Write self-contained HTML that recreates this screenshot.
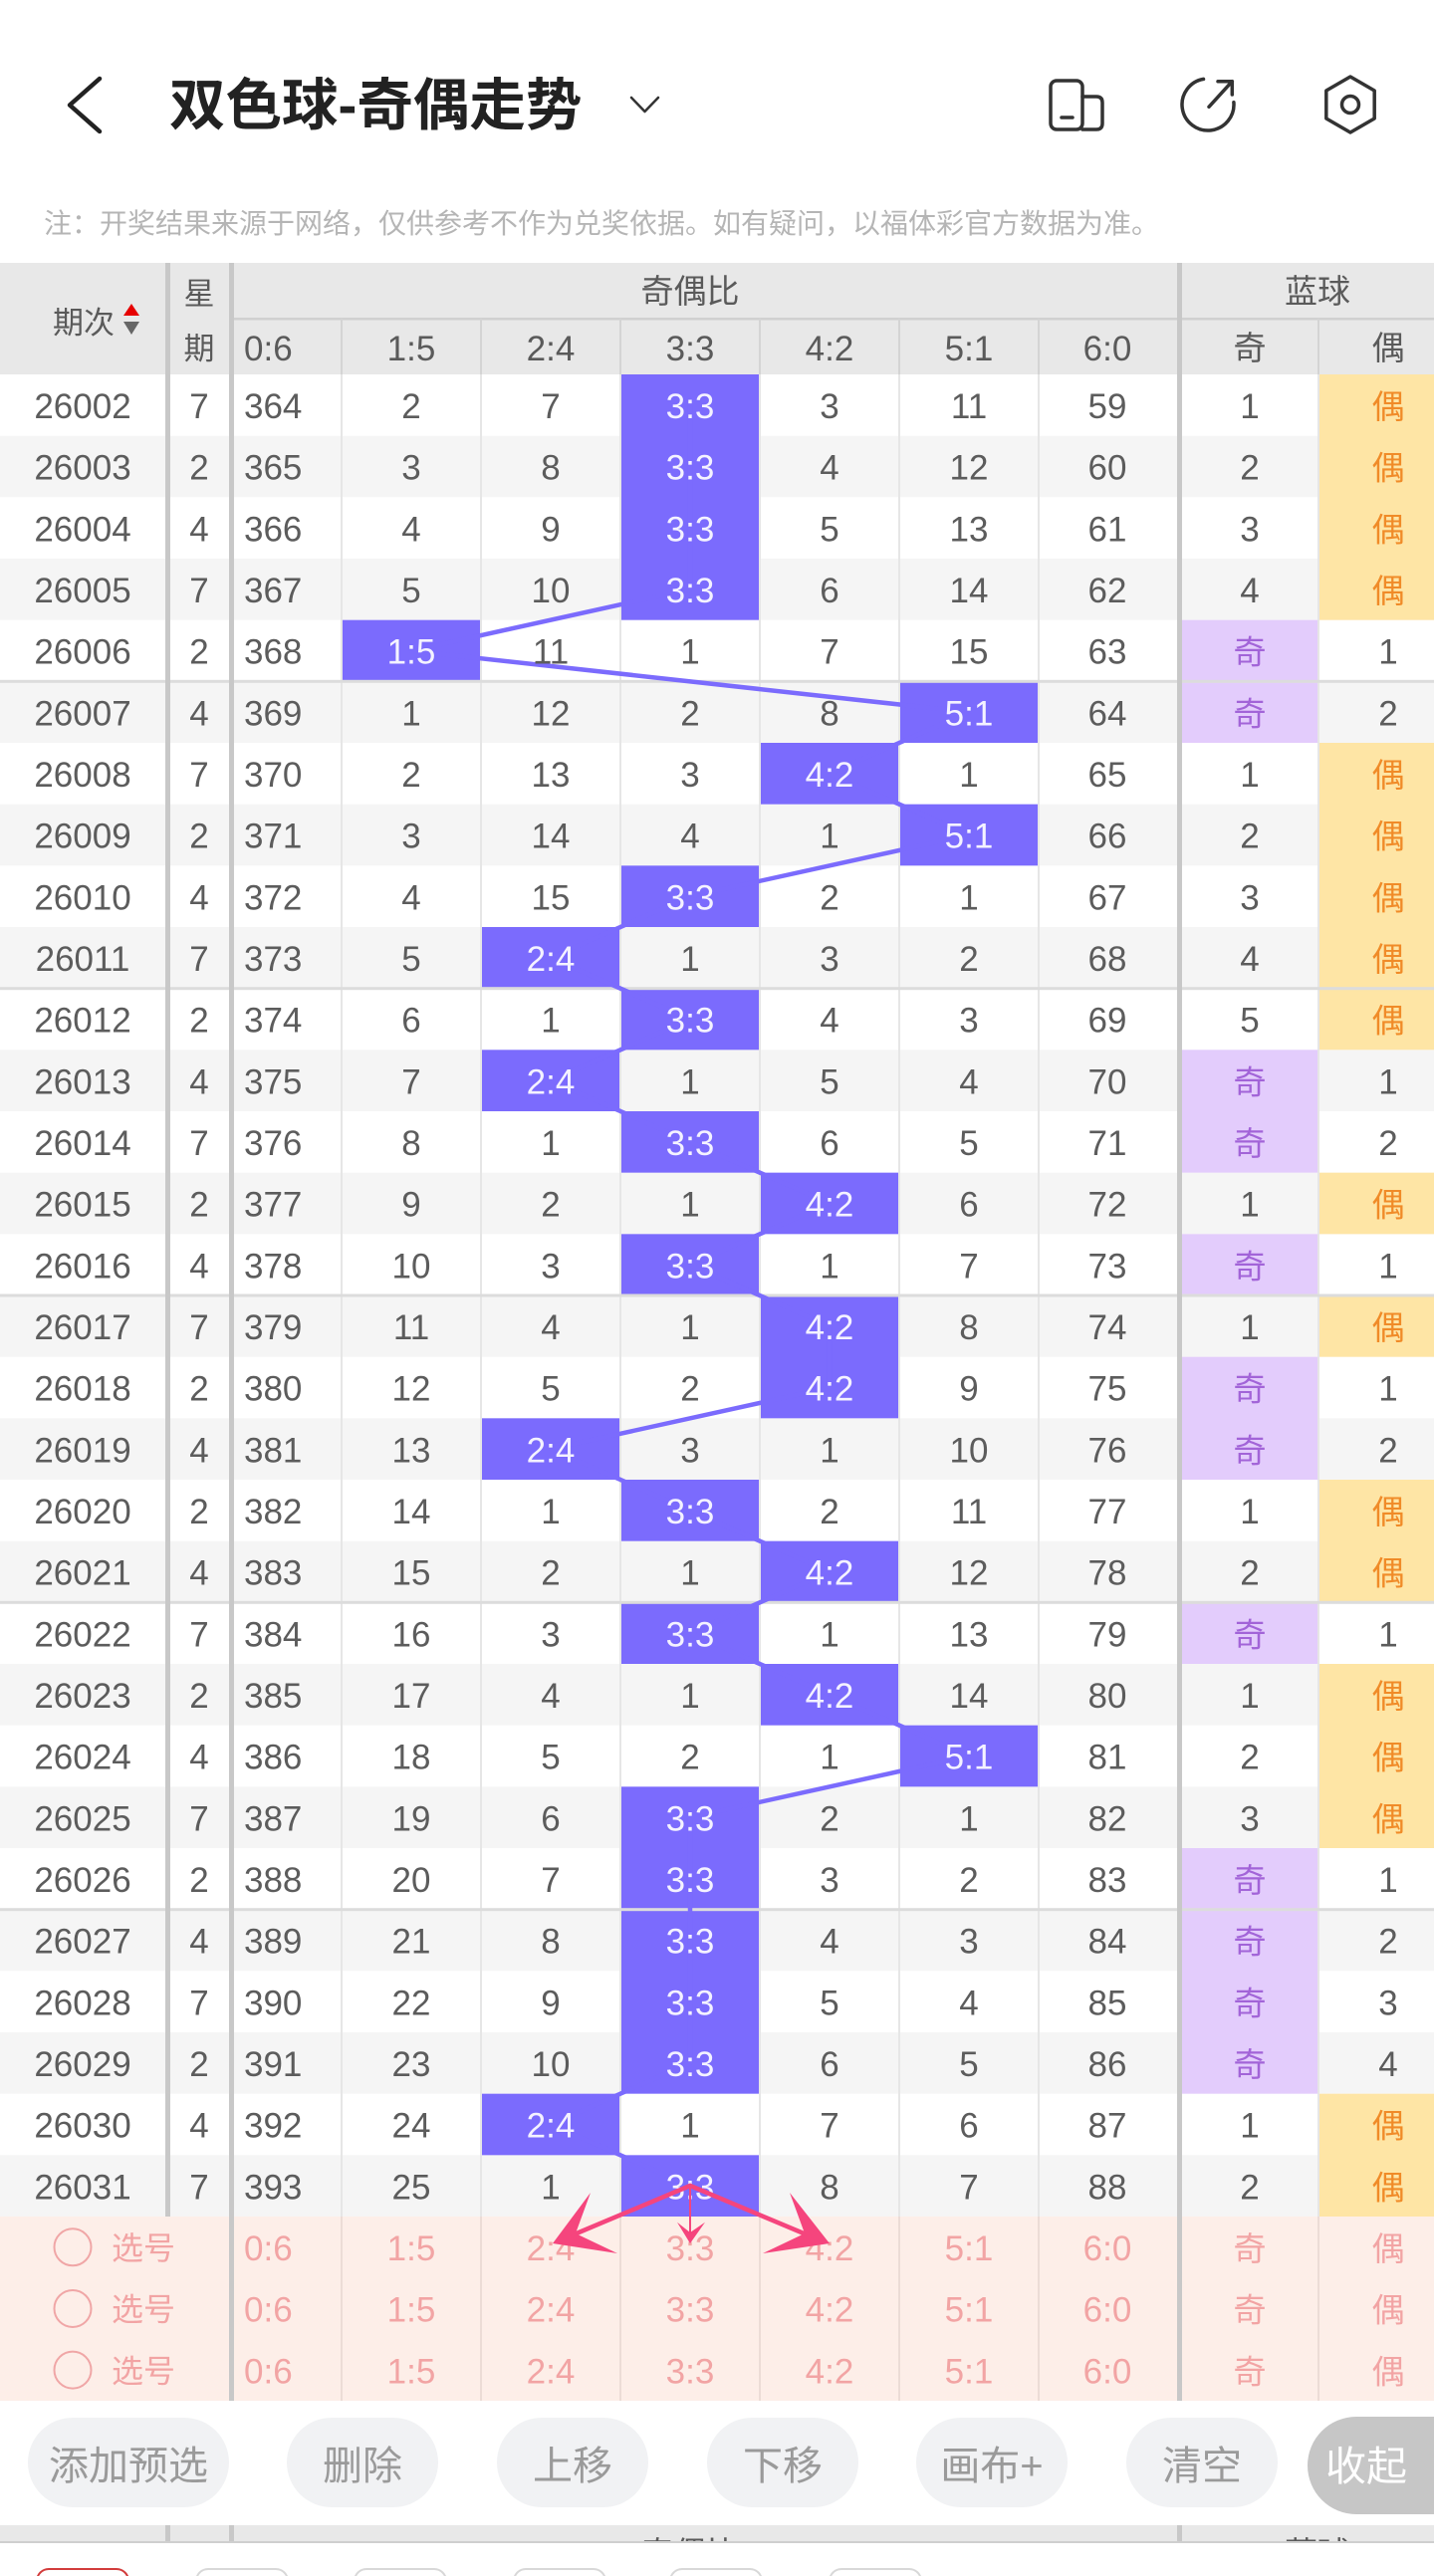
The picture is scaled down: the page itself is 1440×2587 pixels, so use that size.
<!DOCTYPE html>
<html>
<head>
<meta charset="utf-8">
<style>
html,body{margin:0;padding:0;background:#fff;}
body{width:1440px;height:2587px;overflow:hidden;position:relative;}
svg{position:absolute;left:0;top:0;display:block;}
text{font-family:"Liberation Sans","Noto Sans CJK SC",sans-serif;}
.d text{font-size:35px;fill:#5c5c5c;text-anchor:middle;}
.d text.s{text-anchor:start;}
.d text.w{fill:#f4f2ff;}
.d text.q{fill:#a264d8;font-size:33px;}
.d text.o{fill:#f08b28;font-size:33px;}
.h text{fill:#5a5a5a;text-anchor:middle;}
.p text{fill:#f2a4a4;font-size:35px;text-anchor:middle;}
.p text.s{text-anchor:start;}
.p text.c{font-size:33px;}
.b text{font-size:40px;fill:#9a9a9a;text-anchor:middle;}
</style>
</head>
<body>
<svg width="1440" height="2587" viewBox="0 0 1440 2587" xmlns="http://www.w3.org/2000/svg">
<defs>
<clipPath id="stripclip"><rect x="0" y="2536" width="1440" height="16"/></clipPath>
</defs>

<!-- Top bar -->
<polyline points="100,79 70,105.5 100,132" fill="none" stroke="#222" stroke-width="4.5" stroke-linecap="round" stroke-linejoin="round"/>
<text x="170" y="125" font-size="56.5" font-weight="bold" fill="#222">双色球-奇偶走势</text>
<polyline points="634,98 647.5,112 661,98" fill="none" stroke="#333" stroke-width="2.5" stroke-linecap="round" stroke-linejoin="round"/>
<g fill="none" stroke="#333" stroke-width="3.5" stroke-linecap="round" stroke-linejoin="round">
<rect x="1055" y="81" width="32" height="49" rx="6"/>
<path d="M1087 97 H1101 Q1107 97 1107 103 V124 Q1107 130 1101 130 H1087"/>
<line x1="1066" y1="118" x2="1077" y2="118"/>
<path d="M1208.5 79.4 A26 26 0 1 0 1238.9 102.7"/>
<line x1="1214" y1="107.3" x2="1237.3" y2="81.7"/>
<path d="M1223 81.7 H1237.3 V95"/>
<polygon points="1356,77 1380.2,91 1380.2,119 1356,133 1331.8,119 1331.8,91"/>
<circle cx="1356" cy="105" r="8.5"/>
</g>

<!-- Note -->
<text x="44" y="234" font-size="28" fill="#b5b5b5">注：开奖结果来源于网络，仅供参考不作为兑奖依据。如有疑问，以福体彩官方数据为准。</text>

<!-- Table header -->
<rect x="0" y="264" width="1440" height="112" fill="#e8e8e8"/>
<rect x="235" y="319" width="1205" height="2.5" fill="#d0d0d0"/>
<g fill="#d4d4d4">
<rect x="342" y="320" width="2" height="56"/>
<rect x="482" y="320" width="2" height="56"/>
<rect x="622" y="320" width="2" height="56"/>
<rect x="762" y="320" width="2" height="56"/>
<rect x="902" y="320" width="2" height="56"/>
<rect x="1042" y="320" width="2" height="56"/>
<rect x="1323" y="320" width="2" height="56"/>
</g>

<!-- Row backgrounds (odd rows gray) -->
<g fill="#f5f5f5">
<rect x="0" y="437.67" width="1440" height="61.67"/>
<rect x="0" y="561" width="1440" height="61.67"/>
<rect x="0" y="684.33" width="1440" height="61.67"/>
<rect x="0" y="807.67" width="1440" height="61.67"/>
<rect x="0" y="931" width="1440" height="61.67"/>
<rect x="0" y="1054.33" width="1440" height="61.67"/>
<rect x="0" y="1177.67" width="1440" height="61.67"/>
<rect x="0" y="1301" width="1440" height="61.67"/>
<rect x="0" y="1424.33" width="1440" height="61.67"/>
<rect x="0" y="1547.67" width="1440" height="61.67"/>
<rect x="0" y="1671" width="1440" height="61.67"/>
<rect x="0" y="1794.33" width="1440" height="61.67"/>
<rect x="0" y="1917.67" width="1440" height="61.67"/>
<rect x="0" y="2041" width="1440" height="61.67"/>
<rect x="0" y="2164.33" width="1440" height="61.67"/>
</g>

<!-- Pink selection rows -->
<rect x="0" y="2226" width="1440" height="185" fill="#fdeee8"/>

<!-- thin vertical separators -->
<g fill="#e6e6e6">
<rect x="342" y="376" width="2" height="1850"/>
<rect x="482" y="376" width="2" height="1850"/>
<rect x="622" y="376" width="2" height="1850"/>
<rect x="762" y="376" width="2" height="1850"/>
<rect x="902" y="376" width="2" height="1850"/>
<rect x="1042" y="376" width="2" height="1850"/>
<rect x="1323" y="376" width="2" height="1850"/>
</g>
<g fill="#ecdcd6">
<rect x="342" y="2226" width="2" height="185"/>
<rect x="482" y="2226" width="2" height="185"/>
<rect x="622" y="2226" width="2" height="185"/>
<rect x="762" y="2226" width="2" height="185"/>
<rect x="902" y="2226" width="2" height="185"/>
<rect x="1042" y="2226" width="2" height="185"/>
<rect x="1323" y="2226" width="2" height="185"/>
</g>

<!-- Blue ball 奇 backgrounds -->
<g fill="#e3ccfc">
<rect x="1187" y="622.67" width="136" height="123.33"/>
<rect x="1187" y="1054.33" width="136" height="123.33"/>
<rect x="1187" y="1239.33" width="136" height="61.67"/>
<rect x="1187" y="1362.67" width="136" height="123.33"/>
<rect x="1187" y="1609.33" width="136" height="61.67"/>
<rect x="1187" y="1856" width="136" height="246.67"/>
</g>
<!-- 偶 backgrounds -->
<g fill="#fee5a5">
<rect x="1325" y="376" width="115" height="246.67"/>
<rect x="1325" y="746" width="115" height="308.33"/>
<rect x="1325" y="1177.67" width="115" height="61.67"/>
<rect x="1325" y="1301" width="115" height="61.67"/>
<rect x="1325" y="1486" width="115" height="123.33"/>
<rect x="1325" y="1671" width="115" height="185"/>
<rect x="1325" y="2102.67" width="115" height="123.33"/>
</g>

<!-- Highlight boxes -->
<g fill="#7b6bfd">
<rect x="624" y="376" width="138" height="246.67"/>
<rect x="624" y="869.33" width="138" height="61.67"/>
<rect x="624" y="992.67" width="138" height="61.67"/>
<rect x="624" y="1116" width="138" height="61.67"/>
<rect x="624" y="1239.33" width="138" height="61.67"/>
<rect x="624" y="1486" width="138" height="61.67"/>
<rect x="624" y="1609.33" width="138" height="61.67"/>
<rect x="624" y="1794.33" width="138" height="308.33"/>
<rect x="624" y="2164.33" width="138" height="61.67"/>
<rect x="344" y="622.67" width="138" height="61.67"/>
<rect x="904" y="684.33" width="138" height="61.67"/>
<rect x="904" y="807.67" width="138" height="61.67"/>
<rect x="904" y="1732.67" width="138" height="61.67"/>
<rect x="764" y="746" width="138" height="61.67"/>
<rect x="764" y="1177.67" width="138" height="61.67"/>
<rect x="764" y="1301" width="138" height="123.33"/>
<rect x="764" y="1547.67" width="138" height="61.67"/>
<rect x="764" y="1671" width="138" height="61.67"/>
<rect x="484" y="931" width="138" height="61.67"/>
<rect x="484" y="1054.33" width="138" height="61.67"/>
<rect x="484" y="1424.33" width="138" height="61.67"/>
<rect x="484" y="2102.67" width="138" height="61.67"/>
</g>

<!-- group lines -->
<g fill="#dcdcdc">
<rect x="0" y="682.8" width="1440" height="3"/>
<rect x="0" y="991.2" width="1440" height="3"/>
<rect x="0" y="1299.5" width="1440" height="3"/>
<rect x="0" y="1607.8" width="1440" height="3"/>
<rect x="0" y="1916.2" width="1440" height="3"/>
</g>

<!-- thick separators -->
<g fill="#c8c8c8">
<rect x="166" y="264" width="5" height="1962"/>
<rect x="230" y="264" width="5" height="2147"/>
<rect x="1182" y="264" width="5" height="2147"/>
</g>

<!-- trend line -->
<polyline fill="none" stroke="#7b6bfd" stroke-width="4.5" stroke-linejoin="round" points="693,406.8 693,468.5 693,530.2 693,591.8 413,653.5 973,715.2 833,776.8 973,838.5 693,900.2 553,961.8 693,1023.5 553,1085.2 693,1146.8 833,1208.5 693,1270.2 833,1331.8 833,1393.5 553,1455.2 693,1516.8 833,1578.5 693,1640.2 833,1701.8 973,1763.5 693,1825.2 693,1886.8 693,1948.5 693,2010.2 693,2071.8 553,2133.5 693,2195.2"/>

<!-- Header texts -->
<g class="h">
<text x="84" y="335" font-size="31">期次</text>
<polygon points="124,317 140,317 132,305" fill="#e60000"/>
<polygon points="124,323 140,323 132,336" fill="#666"/>
<text x="200" y="306" font-size="31">星</text>
<text x="200" y="361" font-size="31">期</text>
<text x="693" y="304" font-size="33">奇偶比</text>
<text x="1323" y="304" font-size="33">蓝球</text>
<text x="245" y="362" font-size="35" style="text-anchor:start">0:6</text>
<text x="413" y="362" font-size="35">1:5</text>
<text x="553" y="362" font-size="35">2:4</text>
<text x="693" y="362" font-size="35">3:3</text>
<text x="833" y="362" font-size="35">4:2</text>
<text x="973" y="362" font-size="35">5:1</text>
<text x="1112" y="362" font-size="35">6:0</text>
<text x="1255" y="361" font-size="33">奇</text>
<text x="1394" y="361" font-size="33">偶</text>
</g>

<!-- Data rows -->
<g class="d">
<g transform="translate(0,376)"><text x="83" y="44">26002</text><text x="200" y="44">7</text><text class="s" x="245" y="44">364</text><text x="413" y="44">2</text><text x="553" y="44">7</text><text class="w" x="693" y="44">3:3</text><text x="833" y="44">3</text><text x="973" y="44">11</text><text x="1112" y="44">59</text><text x="1255" y="44">1</text><text class="o" x="1394" y="44">偶</text></g>
<g transform="translate(0,437.67)"><text x="83" y="44">26003</text><text x="200" y="44">2</text><text class="s" x="245" y="44">365</text><text x="413" y="44">3</text><text x="553" y="44">8</text><text class="w" x="693" y="44">3:3</text><text x="833" y="44">4</text><text x="973" y="44">12</text><text x="1112" y="44">60</text><text x="1255" y="44">2</text><text class="o" x="1394" y="44">偶</text></g>
<g transform="translate(0,499.33)"><text x="83" y="44">26004</text><text x="200" y="44">4</text><text class="s" x="245" y="44">366</text><text x="413" y="44">4</text><text x="553" y="44">9</text><text class="w" x="693" y="44">3:3</text><text x="833" y="44">5</text><text x="973" y="44">13</text><text x="1112" y="44">61</text><text x="1255" y="44">3</text><text class="o" x="1394" y="44">偶</text></g>
<g transform="translate(0,561)"><text x="83" y="44">26005</text><text x="200" y="44">7</text><text class="s" x="245" y="44">367</text><text x="413" y="44">5</text><text x="553" y="44">10</text><text class="w" x="693" y="44">3:3</text><text x="833" y="44">6</text><text x="973" y="44">14</text><text x="1112" y="44">62</text><text x="1255" y="44">4</text><text class="o" x="1394" y="44">偶</text></g>
<g transform="translate(0,622.67)"><text x="83" y="44">26006</text><text x="200" y="44">2</text><text class="s" x="245" y="44">368</text><text class="w" x="413" y="44">1:5</text><text x="553" y="44">11</text><text x="693" y="44">1</text><text x="833" y="44">7</text><text x="973" y="44">15</text><text x="1112" y="44">63</text><text class="q" x="1255" y="44">奇</text><text x="1394" y="44">1</text></g>
<g transform="translate(0,684.33)"><text x="83" y="44">26007</text><text x="200" y="44">4</text><text class="s" x="245" y="44">369</text><text x="413" y="44">1</text><text x="553" y="44">12</text><text x="693" y="44">2</text><text x="833" y="44">8</text><text class="w" x="973" y="44">5:1</text><text x="1112" y="44">64</text><text class="q" x="1255" y="44">奇</text><text x="1394" y="44">2</text></g>
<g transform="translate(0,746)"><text x="83" y="44">26008</text><text x="200" y="44">7</text><text class="s" x="245" y="44">370</text><text x="413" y="44">2</text><text x="553" y="44">13</text><text x="693" y="44">3</text><text class="w" x="833" y="44">4:2</text><text x="973" y="44">1</text><text x="1112" y="44">65</text><text x="1255" y="44">1</text><text class="o" x="1394" y="44">偶</text></g>
<g transform="translate(0,807.67)"><text x="83" y="44">26009</text><text x="200" y="44">2</text><text class="s" x="245" y="44">371</text><text x="413" y="44">3</text><text x="553" y="44">14</text><text x="693" y="44">4</text><text x="833" y="44">1</text><text class="w" x="973" y="44">5:1</text><text x="1112" y="44">66</text><text x="1255" y="44">2</text><text class="o" x="1394" y="44">偶</text></g>
<g transform="translate(0,869.33)"><text x="83" y="44">26010</text><text x="200" y="44">4</text><text class="s" x="245" y="44">372</text><text x="413" y="44">4</text><text x="553" y="44">15</text><text class="w" x="693" y="44">3:3</text><text x="833" y="44">2</text><text x="973" y="44">1</text><text x="1112" y="44">67</text><text x="1255" y="44">3</text><text class="o" x="1394" y="44">偶</text></g>
<g transform="translate(0,931)"><text x="83" y="44">26011</text><text x="200" y="44">7</text><text class="s" x="245" y="44">373</text><text x="413" y="44">5</text><text class="w" x="553" y="44">2:4</text><text x="693" y="44">1</text><text x="833" y="44">3</text><text x="973" y="44">2</text><text x="1112" y="44">68</text><text x="1255" y="44">4</text><text class="o" x="1394" y="44">偶</text></g>
<g transform="translate(0,992.67)"><text x="83" y="44">26012</text><text x="200" y="44">2</text><text class="s" x="245" y="44">374</text><text x="413" y="44">6</text><text x="553" y="44">1</text><text class="w" x="693" y="44">3:3</text><text x="833" y="44">4</text><text x="973" y="44">3</text><text x="1112" y="44">69</text><text x="1255" y="44">5</text><text class="o" x="1394" y="44">偶</text></g>
<g transform="translate(0,1054.33)"><text x="83" y="44">26013</text><text x="200" y="44">4</text><text class="s" x="245" y="44">375</text><text x="413" y="44">7</text><text class="w" x="553" y="44">2:4</text><text x="693" y="44">1</text><text x="833" y="44">5</text><text x="973" y="44">4</text><text x="1112" y="44">70</text><text class="q" x="1255" y="44">奇</text><text x="1394" y="44">1</text></g>
<g transform="translate(0,1116)"><text x="83" y="44">26014</text><text x="200" y="44">7</text><text class="s" x="245" y="44">376</text><text x="413" y="44">8</text><text x="553" y="44">1</text><text class="w" x="693" y="44">3:3</text><text x="833" y="44">6</text><text x="973" y="44">5</text><text x="1112" y="44">71</text><text class="q" x="1255" y="44">奇</text><text x="1394" y="44">2</text></g>
<g transform="translate(0,1177.67)"><text x="83" y="44">26015</text><text x="200" y="44">2</text><text class="s" x="245" y="44">377</text><text x="413" y="44">9</text><text x="553" y="44">2</text><text x="693" y="44">1</text><text class="w" x="833" y="44">4:2</text><text x="973" y="44">6</text><text x="1112" y="44">72</text><text x="1255" y="44">1</text><text class="o" x="1394" y="44">偶</text></g>
<g transform="translate(0,1239.33)"><text x="83" y="44">26016</text><text x="200" y="44">4</text><text class="s" x="245" y="44">378</text><text x="413" y="44">10</text><text x="553" y="44">3</text><text class="w" x="693" y="44">3:3</text><text x="833" y="44">1</text><text x="973" y="44">7</text><text x="1112" y="44">73</text><text class="q" x="1255" y="44">奇</text><text x="1394" y="44">1</text></g>
<g transform="translate(0,1301)"><text x="83" y="44">26017</text><text x="200" y="44">7</text><text class="s" x="245" y="44">379</text><text x="413" y="44">11</text><text x="553" y="44">4</text><text x="693" y="44">1</text><text class="w" x="833" y="44">4:2</text><text x="973" y="44">8</text><text x="1112" y="44">74</text><text x="1255" y="44">1</text><text class="o" x="1394" y="44">偶</text></g>
<g transform="translate(0,1362.67)"><text x="83" y="44">26018</text><text x="200" y="44">2</text><text class="s" x="245" y="44">380</text><text x="413" y="44">12</text><text x="553" y="44">5</text><text x="693" y="44">2</text><text class="w" x="833" y="44">4:2</text><text x="973" y="44">9</text><text x="1112" y="44">75</text><text class="q" x="1255" y="44">奇</text><text x="1394" y="44">1</text></g>
<g transform="translate(0,1424.33)"><text x="83" y="44">26019</text><text x="200" y="44">4</text><text class="s" x="245" y="44">381</text><text x="413" y="44">13</text><text class="w" x="553" y="44">2:4</text><text x="693" y="44">3</text><text x="833" y="44">1</text><text x="973" y="44">10</text><text x="1112" y="44">76</text><text class="q" x="1255" y="44">奇</text><text x="1394" y="44">2</text></g>
<g transform="translate(0,1486)"><text x="83" y="44">26020</text><text x="200" y="44">2</text><text class="s" x="245" y="44">382</text><text x="413" y="44">14</text><text x="553" y="44">1</text><text class="w" x="693" y="44">3:3</text><text x="833" y="44">2</text><text x="973" y="44">11</text><text x="1112" y="44">77</text><text x="1255" y="44">1</text><text class="o" x="1394" y="44">偶</text></g>
<g transform="translate(0,1547.67)"><text x="83" y="44">26021</text><text x="200" y="44">4</text><text class="s" x="245" y="44">383</text><text x="413" y="44">15</text><text x="553" y="44">2</text><text x="693" y="44">1</text><text class="w" x="833" y="44">4:2</text><text x="973" y="44">12</text><text x="1112" y="44">78</text><text x="1255" y="44">2</text><text class="o" x="1394" y="44">偶</text></g>
<g transform="translate(0,1609.33)"><text x="83" y="44">26022</text><text x="200" y="44">7</text><text class="s" x="245" y="44">384</text><text x="413" y="44">16</text><text x="553" y="44">3</text><text class="w" x="693" y="44">3:3</text><text x="833" y="44">1</text><text x="973" y="44">13</text><text x="1112" y="44">79</text><text class="q" x="1255" y="44">奇</text><text x="1394" y="44">1</text></g>
<g transform="translate(0,1671)"><text x="83" y="44">26023</text><text x="200" y="44">2</text><text class="s" x="245" y="44">385</text><text x="413" y="44">17</text><text x="553" y="44">4</text><text x="693" y="44">1</text><text class="w" x="833" y="44">4:2</text><text x="973" y="44">14</text><text x="1112" y="44">80</text><text x="1255" y="44">1</text><text class="o" x="1394" y="44">偶</text></g>
<g transform="translate(0,1732.67)"><text x="83" y="44">26024</text><text x="200" y="44">4</text><text class="s" x="245" y="44">386</text><text x="413" y="44">18</text><text x="553" y="44">5</text><text x="693" y="44">2</text><text x="833" y="44">1</text><text class="w" x="973" y="44">5:1</text><text x="1112" y="44">81</text><text x="1255" y="44">2</text><text class="o" x="1394" y="44">偶</text></g>
<g transform="translate(0,1794.33)"><text x="83" y="44">26025</text><text x="200" y="44">7</text><text class="s" x="245" y="44">387</text><text x="413" y="44">19</text><text x="553" y="44">6</text><text class="w" x="693" y="44">3:3</text><text x="833" y="44">2</text><text x="973" y="44">1</text><text x="1112" y="44">82</text><text x="1255" y="44">3</text><text class="o" x="1394" y="44">偶</text></g>
<g transform="translate(0,1856)"><text x="83" y="44">26026</text><text x="200" y="44">2</text><text class="s" x="245" y="44">388</text><text x="413" y="44">20</text><text x="553" y="44">7</text><text class="w" x="693" y="44">3:3</text><text x="833" y="44">3</text><text x="973" y="44">2</text><text x="1112" y="44">83</text><text class="q" x="1255" y="44">奇</text><text x="1394" y="44">1</text></g>
<g transform="translate(0,1917.67)"><text x="83" y="44">26027</text><text x="200" y="44">4</text><text class="s" x="245" y="44">389</text><text x="413" y="44">21</text><text x="553" y="44">8</text><text class="w" x="693" y="44">3:3</text><text x="833" y="44">4</text><text x="973" y="44">3</text><text x="1112" y="44">84</text><text class="q" x="1255" y="44">奇</text><text x="1394" y="44">2</text></g>
<g transform="translate(0,1979.33)"><text x="83" y="44">26028</text><text x="200" y="44">7</text><text class="s" x="245" y="44">390</text><text x="413" y="44">22</text><text x="553" y="44">9</text><text class="w" x="693" y="44">3:3</text><text x="833" y="44">5</text><text x="973" y="44">4</text><text x="1112" y="44">85</text><text class="q" x="1255" y="44">奇</text><text x="1394" y="44">3</text></g>
<g transform="translate(0,2041)"><text x="83" y="44">26029</text><text x="200" y="44">2</text><text class="s" x="245" y="44">391</text><text x="413" y="44">23</text><text x="553" y="44">10</text><text class="w" x="693" y="44">3:3</text><text x="833" y="44">6</text><text x="973" y="44">5</text><text x="1112" y="44">86</text><text class="q" x="1255" y="44">奇</text><text x="1394" y="44">4</text></g>
<g transform="translate(0,2102.67)"><text x="83" y="44">26030</text><text x="200" y="44">4</text><text class="s" x="245" y="44">392</text><text x="413" y="44">24</text><text class="w" x="553" y="44">2:4</text><text x="693" y="44">1</text><text x="833" y="44">7</text><text x="973" y="44">6</text><text x="1112" y="44">87</text><text x="1255" y="44">1</text><text class="o" x="1394" y="44">偶</text></g>
<g transform="translate(0,2164.33)"><text x="83" y="44">26031</text><text x="200" y="44">7</text><text class="s" x="245" y="44">393</text><text x="413" y="44">25</text><text x="553" y="44">1</text><text class="w" x="693" y="44">3:3</text><text x="833" y="44">8</text><text x="973" y="44">7</text><text x="1112" y="44">88</text><text x="1255" y="44">2</text><text class="o" x="1394" y="44">偶</text></g>
</g>

<!-- Pink selection rows text -->
<g class="p">
<g transform="translate(0,2226)"><circle cx="73" cy="30.8" r="18.5" fill="none" stroke="#f0a6a6" stroke-width="2"/><text class="s c" x="112" y="43" style="font-size:32px">选号</text><text class="s" x="245" y="44">0:6</text><text x="413" y="44">1:5</text><text x="553" y="44">2:4</text><text x="693" y="44">3:3</text><text x="833" y="44">4:2</text><text x="973" y="44">5:1</text><text x="1112" y="44">6:0</text><text class="c" x="1255" y="44">奇</text><text class="c" x="1394" y="44">偶</text></g>
<g transform="translate(0,2287.67)"><circle cx="73" cy="30.8" r="18.5" fill="none" stroke="#f0a6a6" stroke-width="2"/><text class="s c" x="112" y="43" style="font-size:32px">选号</text><text class="s" x="245" y="44">0:6</text><text x="413" y="44">1:5</text><text x="553" y="44">2:4</text><text x="693" y="44">3:3</text><text x="833" y="44">4:2</text><text x="973" y="44">5:1</text><text x="1112" y="44">6:0</text><text class="c" x="1255" y="44">奇</text><text class="c" x="1394" y="44">偶</text></g>
<g transform="translate(0,2349.33)"><circle cx="73" cy="30.8" r="18.5" fill="none" stroke="#f0a6a6" stroke-width="2"/><text class="s c" x="112" y="43" style="font-size:32px">选号</text><text class="s" x="245" y="44">0:6</text><text x="413" y="44">1:5</text><text x="553" y="44">2:4</text><text x="693" y="44">3:3</text><text x="833" y="44">4:2</text><text x="973" y="44">5:1</text><text x="1112" y="44">6:0</text><text class="c" x="1255" y="44">奇</text><text class="c" x="1394" y="44">偶</text></g>
</g>

<!-- Arrows -->
<g fill="#f5457d" stroke="none">
<line x1="693" y1="2195" x2="580" y2="2242.5" stroke="#f5457d" stroke-width="4.5" stroke-linecap="round"/>
<polygon points="555,2253 593,2202 578,2243 620,2263"/>
<line x1="693" y1="2195" x2="806" y2="2242.5" stroke="#f5457d" stroke-width="4.5" stroke-linecap="round"/>
<polygon points="833,2253 793,2202 808,2243 766,2263"/>
<line x1="693" y1="2195" x2="693" y2="2244" stroke="#f5457d" stroke-width="2"/>
<polygon points="693,2253 680,2231.7 693,2242 708,2231.7"/>
</g>

<!-- Buttons -->
<g class="b">
<rect x="28" y="2428" width="202" height="90" rx="45" fill="#f1f2f4"/>
<text x="129" y="2490">添加预选</text>
<rect x="288" y="2428" width="152" height="90" rx="45" fill="#f1f2f4"/>
<text x="364" y="2490">删除</text>
<rect x="499" y="2428" width="152" height="90" rx="45" fill="#f1f2f4"/>
<text x="575" y="2490">上移</text>
<rect x="710" y="2428" width="152" height="90" rx="45" fill="#f1f2f4"/>
<text x="786" y="2490">下移</text>
<rect x="920" y="2428" width="152" height="90" rx="45" fill="#f1f2f4"/>
<text x="996" y="2490">画布+</text>
<rect x="1131" y="2428" width="152" height="90" rx="45" fill="#f1f2f4"/>
<text x="1207" y="2490">清空</text>
<rect x="1313" y="2427" width="200" height="98" rx="49" fill="#c6c6c6"/>
<text x="1331" y="2491" style="text-anchor:start;fill:#ffffff;font-size:41px">收起</text>
</g>

<!-- Bottom cut-off header strip -->
<rect x="0" y="2536" width="1440" height="16" fill="#e8e8e8"/>
<rect x="0" y="2552" width="1440" height="2" fill="#cfcfcf"/>
<g fill="#c8c8c8">
<rect x="166" y="2536" width="5" height="16"/>
<rect x="230" y="2536" width="5" height="16"/>
<rect x="1182" y="2536" width="5" height="16"/>
</g>
<g clip-path="url(#stripclip)">
<text x="693" y="2576" font-size="33" fill="#5a5a5a" text-anchor="middle">奇偶比</text>
<text x="1323" y="2576" font-size="33" fill="#5a5a5a" text-anchor="middle">蓝球</text>
</g>

<!-- Bottom tabs (cut off) -->
<g fill="#ffffff" stroke-width="2">
<rect x="37" y="2580" width="92" height="40" rx="12" stroke="#d23c3c"/>
<rect x="197" y="2580" width="92" height="40" rx="12" stroke="#d8d8d8"/>
<rect x="356" y="2580" width="92" height="40" rx="12" stroke="#d8d8d8"/>
<rect x="516" y="2580" width="92" height="40" rx="12" stroke="#d8d8d8"/>
<rect x="673" y="2580" width="92" height="40" rx="12" stroke="#d8d8d8"/>
<rect x="833" y="2580" width="92" height="40" rx="12" stroke="#d8d8d8"/>
</g>
</svg>
</body>
</html>
